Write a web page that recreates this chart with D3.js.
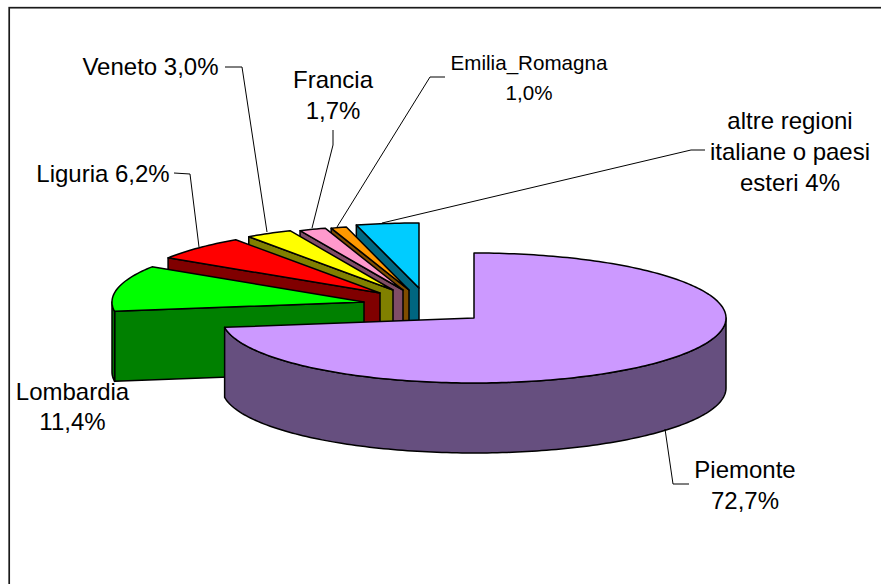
<!DOCTYPE html>
<html><head><meta charset="utf-8">
<script src="https://cdn.jsdelivr.net/npm/d3@7"></script>
<style>html,body{margin:0;padding:0;background:#fff}svg{display:block}text{font-family:"Liberation Sans",Arial,sans-serif;fill:#000}</style>
</head><body><svg id="c" width="881" height="584"></svg>
<script>
const categories=["Piemonte","Lombardia","Liguria","Veneto","Francia","Emilia_Romagna","altre regioni italiane o paesi esteri"];
const shares=[72.7,11.4,6.2,3.0,1.7,1.0,4.0];
const topColors=["#cc99ff","#00ff00","#ff0000","#ffff00","#ff99cc","#ff9900","#00ccff"];
const sideColors=["#664f7f","#008000","#800000","#808000","#804d66","#804d00","#006680"];
const apexX=[474,364,380,393,403,409,419];
const apexY=[318,302,293,290,290,290,288];
const labelLines=[["Piemonte","72,7%"],["Lombardia","11,4%"],["Liguria 6,2%"],["Veneto 3,0%"],["Francia","1,7%"],["Emilia_Romagna","1,0%"],["altre regioni","italiane o paesi","esteri 4%"]];
const labelX=[745,72.5,103,150.5,333,529,790];
const labelY=[478,400,182,75,88,70,129];
const labelSize=[24,24,24,24,24,20.6,24];
const lineH=[31,30,0,0,31,30,31];
const leaders=[
 [[665,429],[673,484],[689,484]],
 [],
 [[174,173],[190,174],[199,247]],
 [[225,67],[242,67],[267,232]],
 [[333,130],[333,145],[312,228]],
 [[445,77],[430,77],[337,227]],
 [[705,150],[691,150],[382,223]]
];
const rx=252, ry=65, depth=70;
const svg=d3.select("#c");
svg.append("rect").attr("x",9.2).attr("y",7.7).attr("width",900).attr("height",600).attr("fill","#fff").attr("stroke","#1a1a1a").attr("stroke-width",1.7);
const arcs=d3.pie().sort(null).value(d=>d)(shares);
const pt=(i,a,dz=0)=>[apexX[i]+rx*Math.sin(a),apexY[i]-ry*Math.cos(a)+dz];
const line=d3.line();
function rim(i,a0,a1,dz){const n=Math.max(2,Math.ceil(Math.abs(a1-a0)/0.02));
 return d3.range(n+1).map(k=>pt(i,a0+(a1-a0)*k/n,dz));}
const order=d3.range(shares.length).reverse();
const g=svg.append("g").attr("stroke","#000").attr("stroke-width",1.5).attr("stroke-linejoin","round");
order.forEach(i=>{
 const a=arcs[i], s=a.startAngle, e=a.endAngle, ap=[apexX[i],apexY[i]];
 const slice=g.append("g");
 if(i>0){
  slice.append("path").attr("d",line([pt(i,s),ap,[ap[0],ap[1]+depth],pt(i,s,depth)])+"Z").attr("fill",sideColors[i]);
 }
 const lo=Math.max(s,Math.PI/2), hi=Math.min(e,3*Math.PI/2);
 if(hi>lo){
  slice.append("path").attr("d",line([...rim(i,lo,hi,0),...rim(i,hi,lo,depth)])+"Z").attr("fill",sideColors[i]);
 }
 slice.append("path").attr("d",line([ap,...rim(i,s,e,0)])+"Z").attr("fill",topColors[i]);
});
const lg=svg.append("g").attr("fill","none").attr("stroke","#000").attr("stroke-width",1);
leaders.forEach(l=>{if(l.length)lg.append("path").attr("d",line(l));});
categories.forEach((c,i)=>{
 labelLines[i].forEach((t,k)=>{
  svg.append("text").attr("x",labelX[i]).attr("y",labelY[i]+k*lineH[i]).attr("text-anchor","middle").attr("font-size",labelSize[i]).text(t);
 });
});
</script></body></html>
